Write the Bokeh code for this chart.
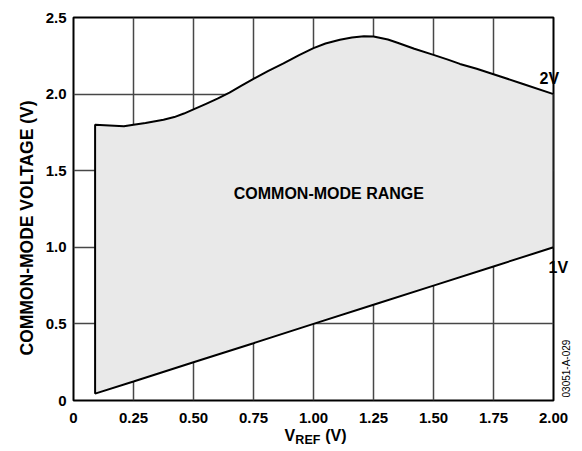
import math
from bokeh.plotting import figure
from bokeh.models import Range1d, FixedTicker, Label, LinearAxis, Title
from bokeh.embed import file_html
from bokeh.resources import INLINE

# ---- data ----
upper_x = [0.09, 0.15, 0.21, 0.25, 0.30, 0.375, 0.42, 0.46, 0.50, 0.55, 0.60, 0.65,
           0.70, 0.75, 0.81, 0.875, 0.94, 1.00, 1.05, 1.11, 1.16, 1.21, 1.25, 1.31,
           1.35, 1.42, 1.50, 1.56, 1.61, 1.68, 1.75, 1.87, 2.00]
upper_y = [1.80, 1.795, 1.79, 1.80, 1.812, 1.833, 1.85, 1.873, 1.90, 1.935, 1.97, 2.01,
           2.055, 2.10, 2.15, 2.20, 2.255, 2.30, 2.33, 2.355, 2.37, 2.378, 2.376, 2.356,
           2.335, 2.296, 2.256, 2.225, 2.197, 2.165, 2.13, 2.068, 2.00]
lower_x = [0.09, 0.25, 0.50, 0.75, 1.00, 1.25, 1.50, 1.75, 2.00]
lower_y = [0.045, 0.124, 0.25, 0.374, 0.50, 0.625, 0.75, 0.875, 1.00]

x_ticks = [0, 0.25, 0.5, 0.75, 1.0, 1.25, 1.5, 1.75, 2.0]
x_tick_labels = ["0", "0.25", "0.50", "0.75", "1.00", "1.25", "1.50", "1.75", "2.00"]
y_ticks = [0, 0.5, 1.0, 1.5, 2.0, 2.5]
y_tick_labels = ["0", "0.5", "1.0", "1.5", "2.0", "2.5"]

FONT = "Liberation Sans"

p = figure(width=582, height=451, output_backend="svg", toolbar_location=None,
           x_range=Range1d(0, 2), y_range=Range1d(0, 2.5),
           min_border_left=73, min_border_right=29, min_border_top=17,
           min_border_bottom=51)

p.outline_line_color = "black"
p.outline_line_width = 2
p.background_fill_color = "white"
p.border_fill_color = "white"


def plain(ax):
    ax.axis_line_color = None
    ax.major_tick_line_color = None
    ax.minor_tick_line_color = None
    ax.major_tick_in = 0
    ax.major_tick_out = 0
    ax.minor_tick_in = 0
    ax.minor_tick_out = 0
    ax.major_label_text_font = FONT
    ax.major_label_text_color = "black"


for ax in (p.xaxis[0], p.yaxis[0]):
    plain(ax)
    ax.major_label_text_font_style = "bold"
    ax.major_label_text_font_size = "15px"

p.xaxis[0].ticker = FixedTicker(ticks=x_ticks)
p.yaxis[0].ticker = FixedTicker(ticks=y_ticks)
p.xaxis[0].major_label_overrides = {t: l for t, l in zip(x_ticks, x_tick_labels)}
p.yaxis[0].major_label_overrides = {t: l for t, l in zip(y_ticks, y_tick_labels)}
p.xaxis[0].major_label_standoff = 12
p.yaxis[0].major_label_standoff = 7

for g in (p.xgrid[0], p.ygrid[0]):
    g.grid_line_color = "#474747"
    g.grid_line_width = 1.5
    g.grid_line_alpha = 1.0

# shaded common-mode region
xs = upper_x + lower_x[::-1]
ys = upper_y + lower_y[::-1]
p.patch(xs, ys, fill_color="#e9e9e9", line_color="black", line_width=2)

p.add_layout(Label(x=1.064, y=1.353, text="COMMON-MODE RANGE", text_align="center",
                   text_baseline="middle", text_font_size="16px", text_font=FONT,
                   text_font_style="bold", text_color="black"))


def text_axis(side, ticks, labels, size, bold, standoff, orientation=None, white_bg=False):
    ax = LinearAxis(ticker=FixedTicker(ticks=ticks),
                    major_label_overrides={t: l for t, l in zip(ticks, labels)})
    plain(ax)
    ax.major_label_text_font_size = size
    ax.major_label_text_font_style = "bold" if bold else "normal"
    ax.major_label_standoff = standoff
    if orientation is not None:
        ax.major_label_orientation = orientation
    if white_bg:
        try:
            ax.major_label_background_fill_color = "white"
        except Exception:
            pass
    p.add_layout(ax, side)
    return ax


# y-axis title (reads bottom to top, starts 45px above the frame bottom)
p.add_layout(Title(text="COMMON-MODE VOLTAGE (V)", align="left", offset=45,
                   text_font=FONT, text_font_style="bold", text_font_size="17.5px",
                   text_color="black", standoff=12), "left")

# x-axis title  V_REF (V): subscript row first, then the main row pulled up
text_axis("below", [0.9765], ["REF"], "12.5px", True, 7)
text_axis("below", [0.9015, 1.093], ["V", "(V)"], "16px", True, -23)

# curve end labels and figure code
text_axis("right", [2.102], ["2V"], "16px", True, -14, white_bg=True)
text_axis("right", [0.868], ["1V"], "16px", True, -14, white_bg=True)
text_axis("right", [0.0196], ["03051-A-029"], "10px", False, -5, orientation=math.pi / 2)

open("out.html", "w").write(file_html(p, INLINE))
